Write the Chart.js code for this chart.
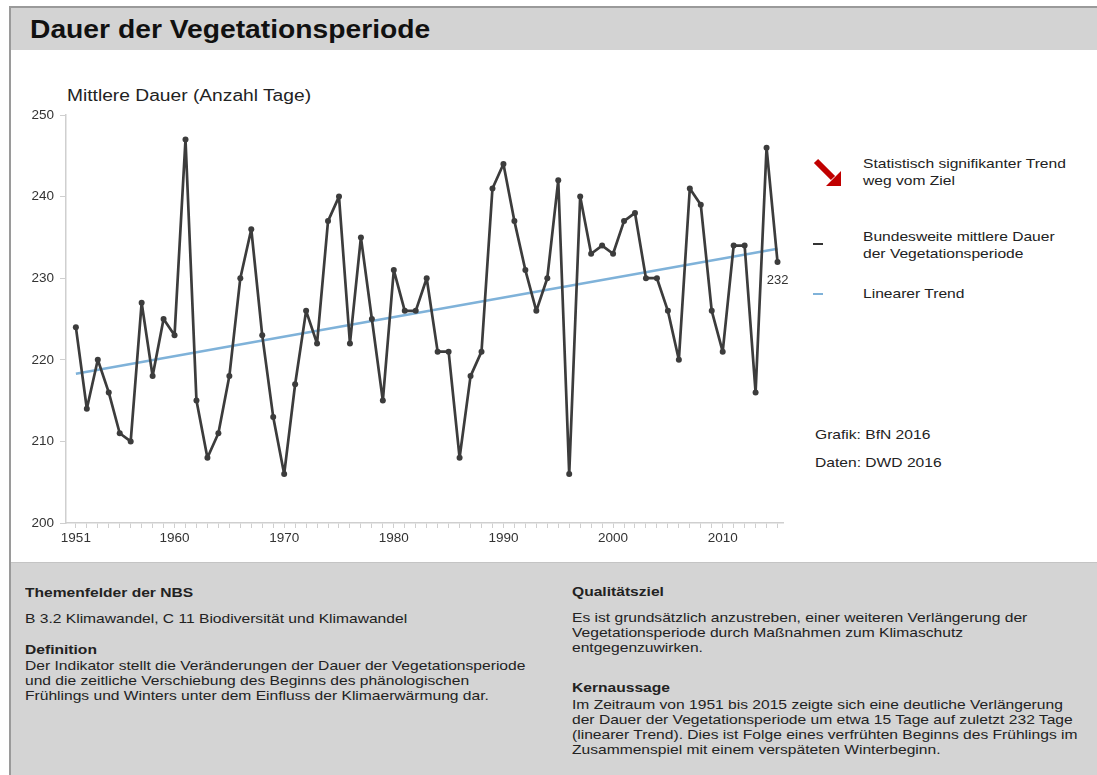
<!DOCTYPE html>
<html lang="de">
<head>
<meta charset="utf-8">
<script src="https://cdn.jsdelivr.net/npm/chart.js@4"></script>
<style>
  body { margin: 0; width: 1097px; height: 775px; background: #fff; font-family: "Liberation Sans", Arial, sans-serif; color: #222; position: relative; overflow: hidden; }
  .frame { position: absolute; left: 9px; top: 6px; right: 0; bottom: 0; border-left: 2px solid #9a9a9a; border-top: 2px solid #9a9a9a; }
  .header { position: absolute; left: 11px; top: 8px; right: 0; height: 42px; background: #d3d3d3; }
  .header h1 { margin: 0; position: absolute; left: 19px; top: 7px; font-size: 25px; font-weight: bold; color: #111; white-space: nowrap; transform: scaleX(1.13); transform-origin: left top; }
  .wide { transform: scaleX(1.2); transform-origin: left top; white-space: nowrap; }
  .ylabel { position: absolute; left: 67px; top: 87px; font-size: 16px; color: #222; }
  #wrap { position: absolute; left: 0; top: 52px; width: 800px; height: 510px; }
  .legend { position: absolute; font-size: 13px; line-height: 17px; color: #222; }
  .dash { position: absolute; width: 10px; height: 2px; }
  .note { position: absolute; left: 815px; font-size: 13px; color: #222; }
  .bottom { position: absolute; left: 11px; top: 562px; right: 0; bottom: 0; background: #d4d4d4; border-top: 1px solid #c4c4c4; font-size: 13px; line-height: 14.7px; color: #222; }
  .bottom h3 { margin: 0; font-size: 13px; font-weight: bold; }
  .bottom p { margin: 0; }
  .col { position: absolute; top: 21px; }
</style>
</head>
<body>
<div class="frame"></div>
<div class="header"><h1>Dauer der Vegetationsperiode</h1></div>
<div class="ylabel wide">Mittlere Dauer (Anzahl Tage)</div>
<div id="wrap"><canvas id="lineChart"></canvas></div>

<svg style="position:absolute;left:813px;top:158px" width="34" height="32" viewBox="0 0 34 32">
  <line x1="3" y1="3" x2="20" y2="20" stroke="#c00000" stroke-width="6"/>
  <polygon points="28,28 28,13 13,28" fill="#c00000"/>
</svg>
<div class="legend wide" style="left:863px;top:155px">Statistisch signifikanter Trend<br>weg vom Ziel</div>
<div class="dash" style="left:813px;top:243px;background:#333"></div>
<div class="legend wide" style="left:863px;top:228px">Bundesweite mittlere Dauer<br>der Vegetationsperiode</div>
<div class="dash" style="left:813px;top:293px;background:#7fb2d9"></div>
<div class="legend wide" style="left:863px;top:285px">Linearer Trend</div>
<div class="note wide" style="top:427px">Grafik: BfN 2016</div>
<div class="note wide" style="top:455px">Daten: DWD 2016</div>

<div class="bottom">
  <div class="col wide" style="left:14px;top:23px">
    <h3>Themenfelder der NBS</h3>
    <p style="margin-top:11px">B 3.2 Klimawandel, C 11 Biodiversität und Klimawandel</p>
    <h3 style="margin-top:17px">Definition</h3>
    <p style="margin-top:1px">Der Indikator stellt die Veränderungen der Dauer der Vegetationsperiode<br>und die zeitliche Verschiebung des Beginns des phänologischen<br>Frühlings und Winters unter dem Einfluss der Klimaerwärmung dar.</p>
  </div>
  <div class="col wide" style="left:561px;line-height:15px">
    <h3>Qualitätsziel</h3>
    <p style="margin-top:11px">Es ist grundsätzlich anzustreben, einer weiteren Verlängerung der<br>Vegetationsperiode durch Maßnahmen zum Klimaschutz<br>entgegenzuwirken.</p>
    <h3 style="margin-top:25px">Kernaussage</h3>
    <p style="margin-top:2px">Im Zeitraum von 1951 bis 2015 zeigte sich eine deutliche Verlängerung<br>der Dauer der Vegetationsperiode um etwa 15 Tage auf zuletzt 232 Tage<br>(linearer Trend). Dies ist Folge eines verfrühten Beginns des Frühlings im<br>Zusammenspiel mit einem verspäteten Winterbeginn.</p>
  </div>
</div>

<script>
// Jahre und mittlere Dauer der Vegetationsperiode (Tage)
const years = [
  1951, 1952, 1953, 1954, 1955, 1956, 1957, 1958, 1959, 1960,
  1961, 1962, 1963, 1964, 1965, 1966, 1967, 1968, 1969, 1970,
  1971, 1972, 1973, 1974, 1975, 1976, 1977, 1978, 1979, 1980,
  1981, 1982, 1983, 1984, 1985, 1986, 1987, 1988, 1989, 1990,
  1991, 1992, 1993, 1994, 1995, 1996, 1997, 1998, 1999, 2000,
  2001, 2002, 2003, 2004, 2005, 2006, 2007, 2008, 2009, 2010,
  2011, 2012, 2013, 2014, 2015
];
const duration = [
  224, 214, 220, 216, 211, 210, 227, 218, 225, 223,
  247, 215, 208, 211, 218, 230, 236, 223, 213, 206,
  217, 226, 222, 237, 240, 222, 235, 225, 215, 231,
  226, 226, 230, 221, 221, 208, 218, 221, 241, 244,
  237, 231, 226, 230, 242, 206, 240, 233, 234, 233,
  237, 238, 230, 230, 226, 220, 241, 239, 226, 221,
  234, 234, 216, 246, 232
];
// linearer Trend: Anfangs- und Endwert
const trendYears = [1951, 2015];
const trendValues = [218.3, 233.6];

const yTicks = [200, 210, 220, 230, 240, 250];
const labeledYears = [1951, 1960, 1970, 1980, 1990, 2000, 2010];

const lastLabel = {
  id: 'lastLabel',
  afterDatasetsDraw(chart) {
    const meta = chart.getDatasetMeta(1);
    const pt = meta.data[meta.data.length - 1];
    const ctx = chart.ctx;
    ctx.save();
    ctx.font = '13px "Liberation Sans", Arial, sans-serif';
    ctx.fillStyle = '#333';
    ctx.textAlign = 'center';
    ctx.textBaseline = 'middle';
    ctx.fillText(String(duration[duration.length - 1]), pt.x, pt.y + 19);
    ctx.restore();
  }
};

const ctx = document.getElementById('lineChart').getContext('2d');
new Chart(ctx, {
  type: 'line',
  data: {
    datasets: [
      {
        label: 'Linearer Trend',
        data: trendYears.map((y, i) => ({ x: y, y: trendValues[i] })),
        borderColor: '#7fb2d9',
        borderWidth: 2.5,
        pointRadius: 0,
        order: 2
      },
      {
        label: 'Bundesweite mittlere Dauer der Vegetationsperiode',
        data: years.map((y, i) => ({ x: y, y: duration[i] })),
        borderColor: '#3c3c3c',
        backgroundColor: '#3c3c3c',
        borderWidth: 2.7,
        borderJoinStyle: 'round',
        pointRadius: 3,
        pointBackgroundColor: '#3c3c3c',
        pointBorderWidth: 0,
        tension: 0,
        order: 1
      }
    ]
  },
  options: {
    responsive: true,
    maintainAspectRatio: false,
    animation: false,
    events: [],
    layout: { padding: { top: 63, right: 17, left: 0, bottom: 0 } },
    plugins: {
      legend: { display: false },
      tooltip: { enabled: false }
    },
    scales: {
      x: {
        type: 'linear',
        min: 1950.1,
        max: 2015.5,
        afterBuildTicks: (scale) => {
          scale.ticks = years.map(v => ({ value: v }));
        },
        afterFit: (scale) => { scale.height = 39; },
        grid: {
          display: true,
          drawOnChartArea: false,
          drawTicks: true,
          tickLength: 5,
          color: '#cfcfcf'
        },
        border: { color: '#cfcfcf', width: 1.5 },
        ticks: {
          autoSkip: false,
          maxRotation: 0,
          padding: 2,
          color: '#333',
          font: { family: '"Liberation Sans", Arial, sans-serif', size: 13.5 },
          callback: (value) => labeledYears.includes(value) ? String(value) : ''
        }
      },
      y: {
        min: 200,
        max: 250,
        afterBuildTicks: (scale) => {
          scale.ticks = yTicks.map(v => ({ value: v }));
        },
        afterFit: (scale) => { scale.width = 66; },
        grid: {
          display: true,
          drawOnChartArea: false,
          drawTicks: true,
          tickLength: 6,
          color: '#cfcfcf'
        },
        border: { color: '#cfcfcf', width: 1.5 },
        ticks: {
          padding: 6,
          color: '#333',
          font: { family: '"Liberation Sans", Arial, sans-serif', size: 13.5 }
        }
      }
    }
  },
  plugins: [lastLabel]
});
</script>
</body>
</html>
